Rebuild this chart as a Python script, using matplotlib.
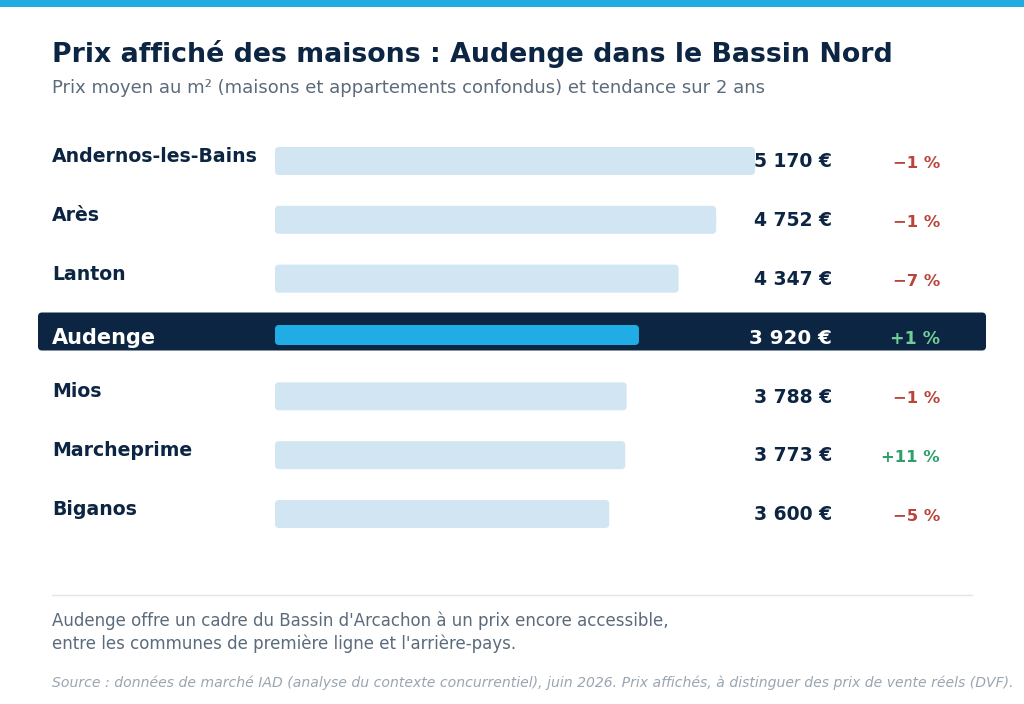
import matplotlib
matplotlib.use("Agg")
import matplotlib.pyplot as plt
from matplotlib.patches import FancyBboxPatch, Rectangle
from matplotlib import transforms

plt.rcParams["font.family"] = ["DejaVu Sans"]

communes = ["Andernos-les-Bains", "Arès", "Lanton", "Audenge", "Mios", "Marcheprime", "Biganos"]
prix = [5170, 4752, 4347, 3920, 3788, 3773, 3600]
prix_labels = ["5 170 €", "4 752 €", "4 347 €", "3 920 €", "3 788 €", "3 773 €", "3 600 €"]
tendance = [-1, -1, -7, 1, -1, 11, -5]
tendance_labels = ["−1 %", "−1 %", "−7 %", "+1 %", "−1 %", "+11 %", "−5 %"]
highlight = "Audenge"

NAVY = "#0c2542"
BAR = "#d1e6f2"
BLUE = "#20ade6"
RED = "#b9443a"
GREEN = "#2e9e6a"
LGREEN = "#6fcf97"
GRAY = "#5b6b7b"
LGRAY = "#9aa5b1"

W, H = 1024, 704
fig = plt.figure(figsize=(W / 100, H / 100), dpi=100)
fig.patch.set_facecolor("white")

# background overlay in pixel coordinates
bg = fig.add_axes([0, 0, 1, 1])
bg.set_xlim(0, W)
bg.set_ylim(H, 0)
bg.axis("off")
bg.add_patch(Rectangle((0, 0), W, 7, color="#22abe3", lw=0))
bg.plot([52, 972], [595, 595], color="#e1e5e9", lw=1)

bg.text(52, 54, "Prix affiché des maisons : Audenge dans le Bassin Nord",
        fontsize=19.3, fontweight="bold", color=NAVY, va="center", ha="left")
bg.text(52, 88, "Prix moyen au m² (maisons et appartements confondus) et tendance sur 2 ans",
        fontsize=13, color=GRAY, va="center", ha="left")
bg.text(52, 621, "Audenge offre un cadre du Bassin d'Arcachon à un prix encore accessible,",
        fontsize=12, color=GRAY, va="center", ha="left")
bg.text(52, 644, "entre les communes de première ligne et l'arrière-pays.",
        fontsize=12, color=GRAY, va="center", ha="left")
bg.text(52, 683, "Source : données de marché IAD (analyse du contexte concurrentiel), juin 2026. "
        "Prix affichés, à distinguer des prix de vente réels (DVF).",
        fontsize=10.1, color=LGRAY, style="italic", va="center", ha="left")

# bar axes
x0, x1 = 275, 755
row_top, row_bot = 161, 514
n = len(communes)
step = (row_bot - row_top) / (n - 1)
ax_top = row_top - step / 2
ax_bot = row_bot + step / 2
ax = fig.add_axes([x0 / W, 1 - ax_bot / H, (x1 - x0) / W, (ax_bot - ax_top) / H])
ax.set_xlim(0, max(prix))
ax.set_ylim(n - 0.5, -0.5)
ax.axis("off")
ax.set_zorder(2)
ax.patch.set_alpha(0)

px_x = max(prix) / (x1 - x0)   # data units per pixel, x
px_y = 1 / step                 # data units per pixel, y
aspect = px_y / px_x

hi = communes.index(highlight)
cy_hi = row_top + hi * step
bg.add_patch(FancyBboxPatch((38, cy_hi - 25), 948, 38,
                            boxstyle="round,pad=0,rounding_size=4",
                            fc=NAVY, ec="none"))

lab_tr = transforms.blended_transform_factory(bg.transData, ax.transData)

for i, (c, p, pl, t, tl) in enumerate(zip(communes, prix, prix_labels, tendance, tendance_labels)):
    is_hi = (c == highlight)
    h = (20 if is_hi else 28) * px_y
    yc = i - (2.5 * px_y if is_hi else 0)
    ax.add_patch(FancyBboxPatch((0, yc - h / 2), p, h,
                                boxstyle=f"round,pad=0,rounding_size={4 * px_x}",
                                mutation_aspect=aspect,
                                fc=BLUE if is_hi else BAR, ec="none"))
    txt_kw = dict(transform=lab_tr, va="baseline")
    if is_hi:
        bg.text(52, i + 6 * px_y, c, fontsize=15, fontweight="bold", color="white",
                ha="left", **txt_kw)
        bg.text(832, i + 6.5 * px_y, pl, fontsize=14.3, fontweight="bold", color="white",
                ha="right", **txt_kw)
        bg.text(940, i + 6.8 * px_y, tl, fontsize=12.5, fontweight="bold", color=LGREEN,
                ha="right", **txt_kw)
    else:
        bg.text(52, i + 1 * px_y, c, fontsize=13.6, fontweight="bold", color=NAVY,
                ha="left", **txt_kw)
        bg.text(832, i + 6.3 * px_y, pl, fontsize=13.5, fontweight="bold", color=NAVY,
                ha="right", **txt_kw)
        bg.text(940, i + 7 * px_y, tl, fontsize=11.8, fontweight="bold",
                color=GREEN if t > 0 else RED, ha="right", **txt_kw)

fig.savefig("out.png", dpi=100, facecolor="white")
